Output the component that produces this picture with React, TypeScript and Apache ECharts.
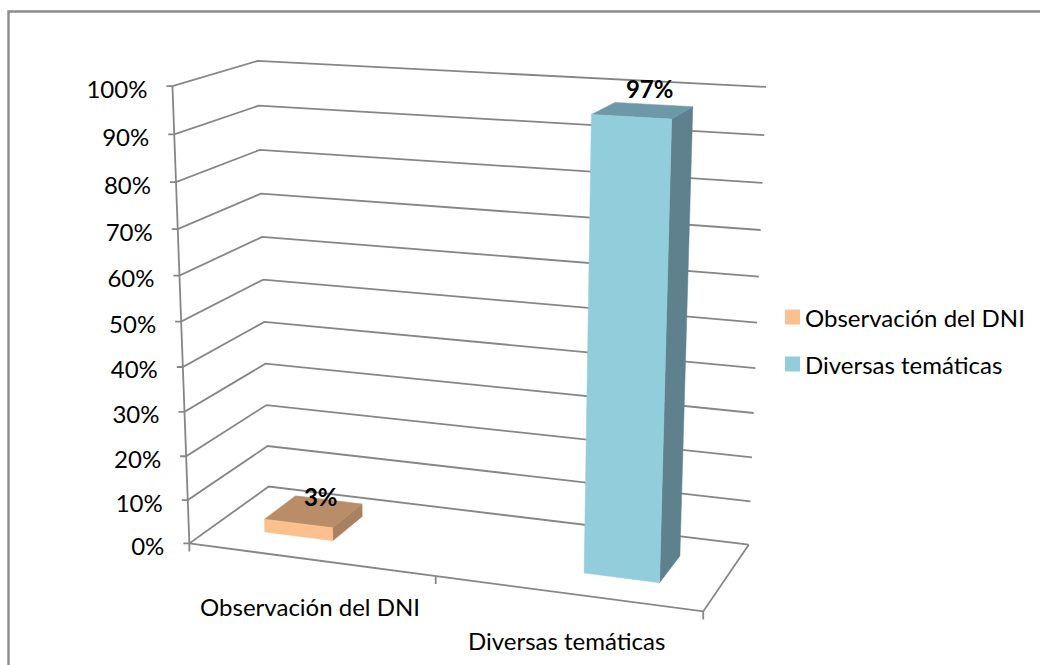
import React, { useEffect, useRef } from "react";
import * as echarts from "echarts";

const categories = ["Observación del DNI", "Diversas temáticas"];
const barValues = [3, 97];
const barLabels = ["3%", "97%"];
const yTicks = [0, 10, 20, 30, 40, 50, 60, 70, 80, 90, 100];
const frontColors = ["#FBC08D", "#92CDDC"];
const topColors = ["#B98D68", "#6C98A7"];
const sideColors = ["#A98160", "#5E818D"];

const LINE = "#868686";
const FONT = "Lato, 'Open Sans', sans-serif";
const FS = 24;

// Calibration of the perspective: (u, t, w) box coordinates -> picture pixels
const calib: [number, number, number, number, number][] = [
  [0, 0, 0, 190, 543],
  [1, 0, 0, 703, 612],
  [0, 1, 0, 172, 86],
  [0, 0, 1, 268, 487],
  [0, 1, 1, 258, 61],
  [1, 0, 1, 749, 544],
  [1, 1, 1, 766, 87],
];
const BAR_WIDTH_FRAC = 0.285; // of one category band
const BAR_W0 = 0.3;
const BAR_W1 = 0.71;

function solveCamera(): number[] {
  const rows: number[][] = [];
  const rhs: number[] = [];
  for (const [u, t, w, px, py] of calib) {
    const X = px / 1000, Y = py / 1000;
    rows.push([u, t, w, 1, 0, 0, 0, 0, -X * u, -X * t, -X * w]); rhs.push(X);
    rows.push([0, 0, 0, 0, u, t, w, 1, -Y * u, -Y * t, -Y * w]); rhs.push(Y);
  }
  const n = 11;
  const A: number[][] = [];
  for (let i = 0; i < n; i++) {
    const r = new Array(n + 1).fill(0);
    for (let j = 0; j < n; j++) for (let k = 0; k < rows.length; k++) r[j] += rows[k][i] * rows[k][j];
    for (let k = 0; k < rows.length; k++) r[n] += rows[k][i] * rhs[k];
    A.push(r);
  }
  for (let i = 0; i < n; i++) {
    let p = i;
    for (let r = i + 1; r < n; r++) if (Math.abs(A[r][i]) > Math.abs(A[p][i])) p = r;
    [A[i], A[p]] = [A[p], A[i]];
    for (let r = 0; r < n; r++) {
      if (r === i) continue;
      const f = A[r][i] / A[i][i];
      for (let c = i; c <= n; c++) A[r][c] -= f * A[i][c];
    }
  }
  return A.map((r, i) => r[n] / r[i]);
}
const P = solveCamera();
const project = (u: number, t: number, w: number): number[] => {
  const d = P[8] * u + P[9] * t + P[10] * w + 1;
  return [
    (1000 * (P[0] * u + P[1] * t + P[2] * w + P[3])) / d,
    (1000 * (P[4] * u + P[5] * t + P[6] * w + P[7])) / d,
  ];
};

const textEl = (text: string, x: number, y: number, bold = false, align = "center") => ({
  type: "text",
  silent: true,
  style: {
    text, x, y,
    textAlign: align,
    textVerticalAlign: "middle",
    fill: "#000",
    font: `${bold ? "bold " : ""}${FS}px ${FONT}`,
  },
});
const lineEl = (points: number[][]) => ({
  type: "polyline",
  silent: true,
  shape: { points },
  style: { stroke: LINE, lineWidth: 1.8, fill: "none" },
});

const heightOf = (api: any, params: any, v: number) => {
  const cs = params.coordSys;
  return (cs.y + cs.height - api.coord([0, v])[1]) / cs.height;
};

const renderFrame = (params: any, api: any) => {
  const v = api.value(1) as number;
  const t = heightOf(api, params, v);
  const fl = project(0, t, 0);
  const children: any[] = [
    lineEl([[fl[0] - 6, fl[1]], fl, project(0, t, 1), project(1, t, 1)]),
    textEl(`${v}%`, fl[0] - 25, fl[1] + 2, false, "right"),
  ];
  if (v === 0) {
    children.push(
      lineEl([project(0, 0, 0), project(0, 1, 0)]),
      lineEl([project(0, 0, 0), project(1, 0, 0), project(1, 0, 1)]),
    );
    [0, 0.5, 1].forEach((u) => {
      const p = project(u, 0, 0);
      children.push(lineEl([p, [p[0], p[1] + 8]]));
    });
  }
  return { type: "group", children };
};

const renderCategoryLabel = (params: any, api: any) => {
  const cs = params.coordSys;
  const pos = api.coord([api.value(0), 0]);
  const p = project((pos[0] - cs.x) / cs.width, 0, 0);
  return textEl(categories[api.value(0) as number], p[0], p[1] + 47);
};

// Two series clustered in each category: series i sits on its own side of the band centre.
const renderBar = (params: any, api: any) => {
  const cs = params.coordSys;
  const i = api.value(0) as number;
  const v = api.value(1) as number;
  const half = (api.size([1, 0])[0] / cs.width) * BAR_WIDTH_FRAC * 0.5;
  const c = (api.coord([i, 0])[0] - cs.x) / cs.width + (i === 0 ? -half : half);
  const t = heightOf(api, params, v);
  const u0 = c - half, u1 = c + half;
  const face = (pts: number[][], fill: string) => ({
    type: "polygon",
    silent: true,
    shape: { points: pts },
    style: { fill, stroke: fill, lineWidth: 0.5 },
  });
  const lab = project(c, t, (BAR_W0 + BAR_W1) / 2);
  return {
    type: "group",
    children: [
      face([project(u1, 0, BAR_W0), project(u1, 0, BAR_W1), project(u1, t, BAR_W1), project(u1, t, BAR_W0)], sideColors[i]),
      face([project(u0, t, BAR_W0), project(u1, t, BAR_W0), project(u1, t, BAR_W1), project(u0, t, BAR_W1)], topColors[i]),
      face([project(u0, 0, BAR_W0), project(u1, 0, BAR_W0), project(u1, t, BAR_W0), project(u0, t, BAR_W0)], frontColors[i]),
      textEl(barLabels[i], lab[0] + 7, lab[1] - 15 - (7 * v) / 100, true),
    ],
  };
};

export default function App() {
  const ref = useRef<HTMLDivElement>(null);
  useEffect(() => {
    const chart = echarts.init(ref.current!, undefined, { renderer: "svg" });
    chart.setOption({
      animation: false,
      backgroundColor: "#fff",
      grid: { left: 100, right: 300, top: 60, bottom: 60 },
      xAxis: { type: "category", data: categories, show: false },
      yAxis: { type: "value", min: 0, max: 100, interval: 10, show: false },
      legend: {
        orient: "vertical",
        left: 785,
        top: 305,
        padding: 0,
        itemWidth: 15,
        itemHeight: 15,
        itemGap: 23,
        icon: "rect",
        data: categories,
        selectedMode: false,
        textStyle: { fontFamily: FONT, fontSize: FS, color: "#000" },
      },
      graphic: [
        {
          type: "polyline",
          silent: true,
          shape: { points: [[8.5, 665], [8.5, 11.5], [1040, 11.5]] },
          style: { fill: "none", stroke: "#8c8c8c", lineWidth: 2.4 },
        },
      ],
      series: [
        {
          type: "custom", name: "frame", z: 1, renderItem: renderFrame,
          data: yTicks.map((v) => [0, v]),
        },
        {
          type: "custom", name: "categoryLabels", z: 1, renderItem: renderCategoryLabel,
          data: categories.map((_, i) => [i, 0]),
        },
        ...categories.map((name, i) => ({
          type: "custom", name, z: 2, renderItem: renderBar,
          itemStyle: { color: frontColors[i] },
          data: [[i, barValues[i]]],
        })),
      ],
    });
    return () => chart.dispose();
  }, []);
  return <div ref={ref} style={{ position: "absolute", left: 0, top: 0, width: 1040, height: 665 }} />;
}
